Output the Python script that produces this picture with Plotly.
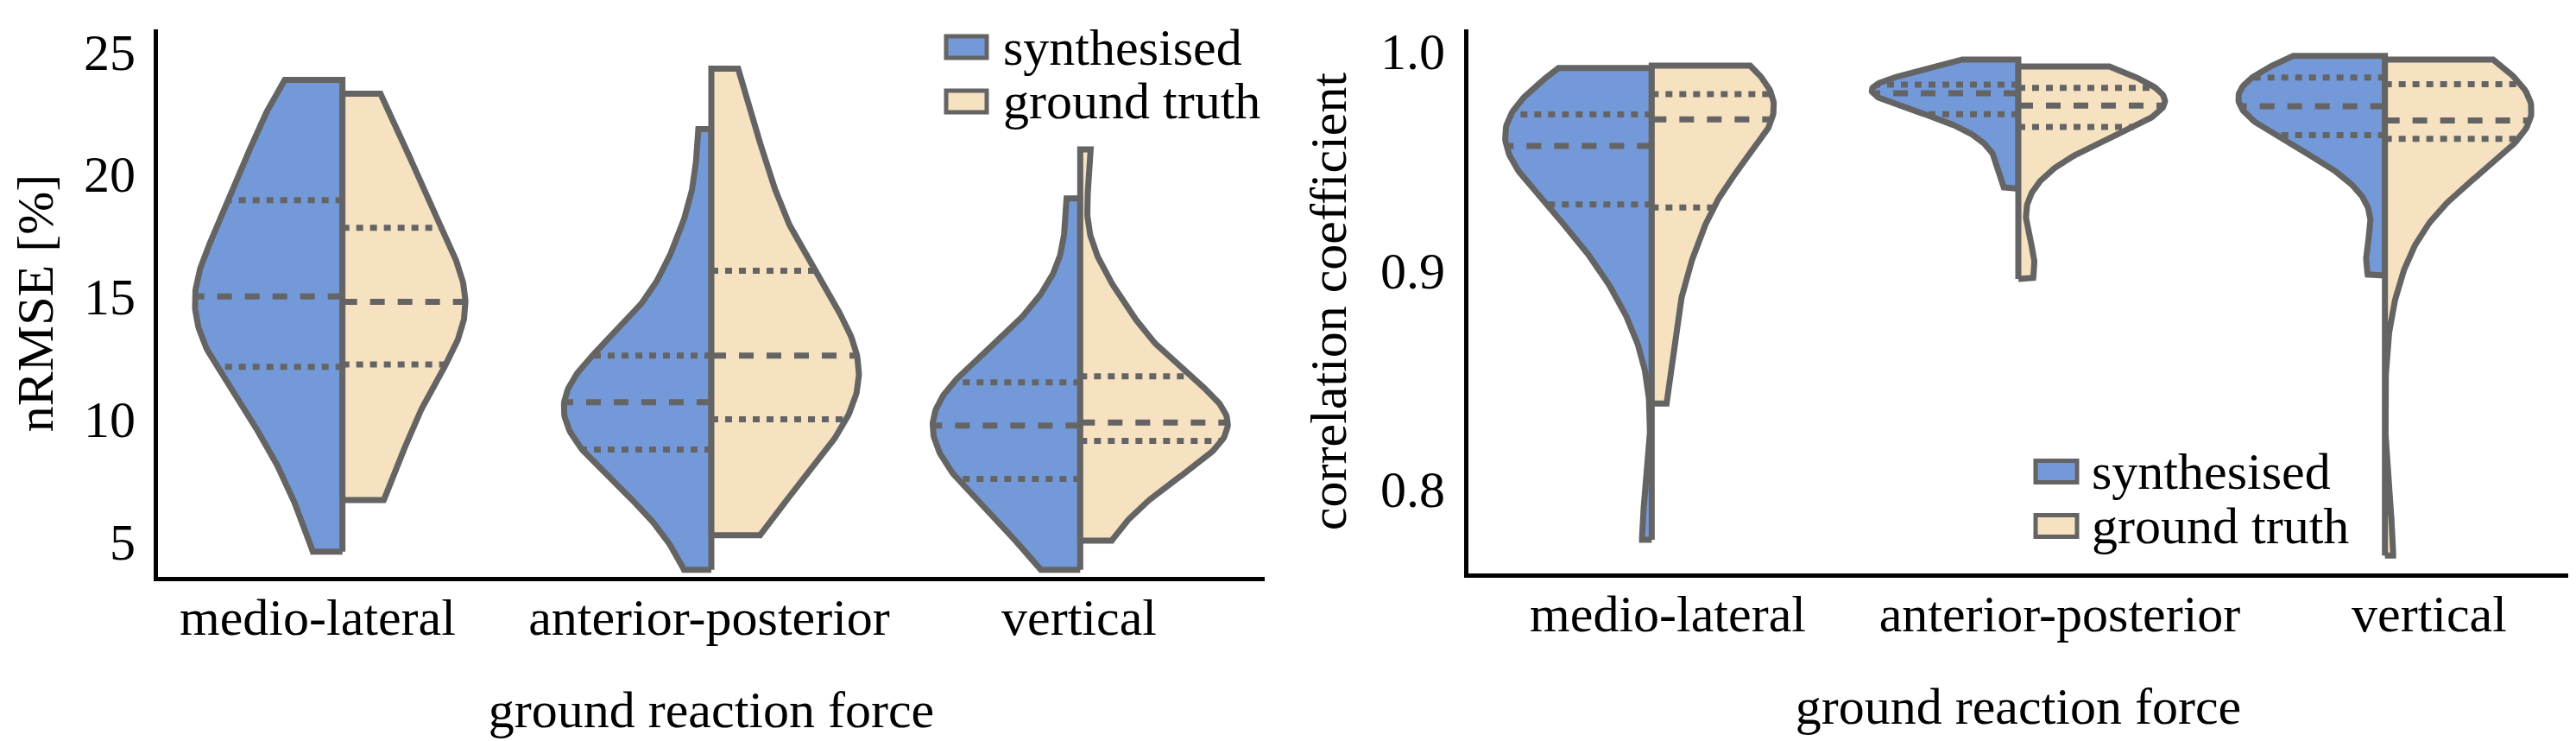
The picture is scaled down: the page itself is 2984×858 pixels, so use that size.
import numpy as np
import plotly.graph_objects as go

# ---------------- data ----------------
categories = ["medio-lateral", "anterior-posterior", "vertical"]
hue_names = ["synthesised", "ground truth"]

# nRMSE [%]
nrmse_synth_ml = [4.58, 7.0, 8.6, 9.8, 10.8, 11.9, 12.2, 12.9, 13.6, 14.1, 14.6, 14.9,
                  15.1, 15.7, 16.3, 16.9, 17.6, 18.8, 19.3, 20.3, 21.3, 22.3, 23.1, 23.84]
nrmse_truth_ml = [6.69, 7.6, 8.8, 10.2, 12.0, 12.3, 13.0, 13.7, 14.2, 14.6, 14.95, 15.4,
                  16.0, 16.7, 17.5, 18.7, 19.6, 20.5, 21.7, 23.27]
nrmse_synth_ap = [3.84, 5.8, 7.0, 7.7, 8.2, 8.6, 8.8, 9.3, 9.7, 10.0, 10.3, 10.5,
                  10.86, 11.2, 11.5, 11.9, 12.3, 12.5, 12.82, 13.8, 15.2, 16.4, 17.6, 21.83]
nrmse_truth_ap = [5.25, 6.6, 7.7, 8.5, 9.2, 9.8, 10.05, 10.6, 11.2, 11.7, 12.1, 12.45,
                  12.71, 13.2, 13.8, 14.4, 15.1, 15.8, 16.8, 17.9, 19.0, 20.4, 22.0, 24.3]
nrmse_synth_v = [3.84, 5.0, 5.9, 6.5, 7.0, 7.4, 7.6, 8.1, 8.6, 9.0, 9.35, 9.6,
                 9.86, 10.2, 10.5, 10.8, 11.1, 11.35, 11.9, 12.4, 13.0, 13.8, 15.2, 19.0]
nrmse_truth_v = [5.03, 6.3, 7.2, 7.8, 8.3, 8.9, 9.17, 9.35, 9.5, 9.65, 9.75, 9.8,
                 9.9, 10.1, 10.4, 10.7, 11.1, 11.5, 12.46, 13.0, 13.6, 14.3, 15.5, 21.0]

# correlation coefficient
corr_synth_ml = [0.7767, 0.885, 0.900, 0.912, 0.920, 0.928, 0.9305, 0.937, 0.943, 0.948, 0.952, 0.955,
                 0.9582, 0.961, 0.964, 0.966, 0.968, 0.970, 0.9743, 0.978, 0.982, 0.985, 0.989, 0.9922]
corr_truth_ml = [0.8389, 0.870, 0.895, 0.912, 0.926, 0.9293, 0.942, 0.953, 0.962, 0.967,
                 0.9706, 0.973, 0.975, 0.977, 0.979, 0.9841, 0.987, 0.989, 0.991, 0.9933]
corr_synth_ap = [0.9371, 0.948, 0.957, 0.963, 0.967, 0.970, 0.9715, 0.974, 0.976, 0.978, 0.979, 0.980,
                 0.9814, 0.982, 0.983, 0.9835, 0.984, 0.9845, 0.9849, 0.986, 0.988, 0.990, 0.993, 0.9961]
corr_truth_ap = [0.8959, 0.908, 0.945, 0.955, 0.960, 0.964, 0.9657, 0.968, 0.970, 0.972, 0.9735, 0.9745,
                 0.9757, 0.977, 0.978, 0.979, 0.981, 0.9829, 0.9838, 0.985, 0.987, 0.989, 0.991, 0.9929]
corr_synth_v = [0.8974, 0.910, 0.941, 0.950, 0.956, 0.960, 0.9621, 0.965, 0.968, 0.970, 0.972, 0.974,
                0.9756, 0.977, 0.979, 0.981, 0.984, 0.9875, 0.9891, 0.990, 0.992, 0.994, 0.996, 0.9978]
corr_truth_v = [0.7695, 0.905, 0.925, 0.938, 0.948, 0.957, 0.9609, 0.963, 0.965, 0.966, 0.967, 0.9678,
                0.9688, 0.970, 0.973, 0.976, 0.980, 0.9840, 0.9872, 0.989, 0.991, 0.993, 0.995, 0.9961]

nrmse_ticks = [5, 10, 15, 20, 25]
corr_ticks = [0.8, 0.9, 1.0]

nrmse_groups = [(nrmse_synth_ml, nrmse_truth_ml), (nrmse_synth_ap, nrmse_truth_ap), (nrmse_synth_v, nrmse_truth_v)]
corr_groups = [(corr_synth_ml, corr_truth_ml), (corr_synth_ap, corr_truth_ap), (corr_synth_v, corr_truth_v)]

# ---------------- style ----------------
W, H = 2984, 858
BLUE = "#7499D9"
TAN = "#F6E2C1"
GRAY = "#646464"
FONT = '"Liberation Serif", "Times New Roman", Times, serif'
FS = 60
HALF_WIDTH = 0.4
LW = 7
M_L, M_R, M_T, M_B = 175, 17, 26, 198
PW, PH = W - M_L - M_R, H - M_T - M_B


def px_x(p):
    return (p - M_L) / PW


def px_y(p):
    return (H - M_B - p) / PH


def kde(vals, grid):
    v = np.asarray(vals, float)
    n = v.size
    bw = v.std(ddof=1) * n ** (-0.2)
    z = (grid[:, None] - v[None, :]) / bw
    return np.exp(-0.5 * z ** 2).sum(axis=1) / (n * bw * np.sqrt(2 * np.pi))


fig = go.Figure()


def add_split_violins(groups, xa, ya):
    for ci, pair in enumerate(groups):
        nmax = max(len(p) for p in pair)
        for hi, vals in enumerate(pair):
            v = np.asarray(vals, float)
            sign = -1 if hi == 0 else 1
            grid = np.linspace(v.min(), v.max(), 200)
            dens = kde(v, grid)
            scale = HALF_WIDTH * (len(v) / nmax) / dens.max()
            xs = np.concatenate([[ci], ci + sign * dens * scale, [ci, ci]])
            ys = np.concatenate([[grid[0]], grid, [grid[-1], grid[0]]])
            fig.add_trace(go.Scatter(
                x=xs, y=ys, mode="lines", fill="toself",
                fillcolor=BLUE if hi == 0 else TAN,
                line=dict(color=GRAY, width=LW),
                name=hue_names[hi], showlegend=False, hoverinfo="skip",
                xaxis=xa, yaxis=ya))
        for hi, vals in enumerate(pair):
            v = np.asarray(vals, float)
            sign = -1 if hi == 0 else 1
            grid = np.linspace(v.min(), v.max(), 200)
            dens = kde(v, grid)
            scale = HALF_WIDTH * (len(v) / nmax) / dens.max()
            q1, q2, q3 = np.percentile(v, [25, 50, 75])
            w = np.interp([q1, q2, q3], grid, dens) * scale
            fig.add_trace(go.Scatter(
                x=[ci, ci + sign * w[0], None, ci, ci + sign * w[2]],
                y=[q1, q1, None, q3, q3], mode="lines",
                line=dict(color=GRAY, width=LW, dash="8px,8px"),
                showlegend=False, hoverinfo="skip", xaxis=xa, yaxis=ya))
            fig.add_trace(go.Scatter(
                x=[ci, ci + sign * w[1]], y=[q2, q2], mode="lines",
                line=dict(color=GRAY, width=LW, dash="17px,15px"),
                showlegend=False, hoverinfo="skip", xaxis=xa, yaxis=ya))


add_split_violins(nrmse_groups, "x", "y")
add_split_violins(corr_groups, "x2", "y2")

# tick-label horizontal shifts (px) as seen in the reference
shift_left_px = [-28.7, -2.5, -1.3]
shift_right_px = [18.7, 48.0, 51.3]
left_dom = [0.0, px_x(1457)]
right_dom = [px_x(1693), 1.0]
unit_left = (1457 - 175) / 3.0
unit_right = (2967 - 1693) / 3.0

axis_common = dict(showgrid=False, zeroline=False, showline=True, linecolor="black",
                   linewidth=5, ticks="", mirror=False, automargin=False,
                   tickfont=dict(family=FONT, size=FS, color="black"))

fig.update_layout(
    width=W, height=H,
    margin=dict(l=M_L, r=M_R, t=M_T, b=M_B, pad=0),
    paper_bgcolor="white", plot_bgcolor="white",
    font=dict(family=FONT, size=FS, color="black"),
    showlegend=False,
    xaxis=dict(domain=left_dom, range=[-0.5, 2.5],
               tickvals=[i + s / unit_left for i, s in enumerate(shift_left_px)],
               ticktext=categories, ticklabelstandoff=-10,
               title=dict(text="ground reaction force", standoff=54,
                          font=dict(family=FONT, size=FS)),
               anchor="y", **axis_common),
    yaxis=dict(domain=[0, 1], range=[3.55, 25.9], tickvals=nrmse_ticks,
               ticklabelstandoff=9,
               title=dict(text="nRMSE [%]", standoff=22, font=dict(family=FONT, size=FS)),
               anchor="x", **axis_common),
    xaxis2=dict(domain=right_dom, range=[-0.5, 2.5],
                tickvals=[i + s / unit_right for i, s in enumerate(shift_right_px)],
                ticktext=categories, ticklabelstandoff=-10,
                title=dict(text="ground reaction force", standoff=54,
                           font=dict(family=FONT, size=FS)),
                anchor="y2", **axis_common),
    yaxis2=dict(domain=[px_y(656), 1], range=[0.7613, 1.0099], tickvals=corr_ticks,
                tickformat=".1f", ticklabelstandoff=10,
                title=dict(text="correlation coefficient", standoff=22,
                           font=dict(family=FONT, size=FS)),
                anchor="x2", **axis_common),
)

# legends (patch + label), positioned as in the reference
legend_boxes = [
    # (patch x0, x1, row centres, text x)
    (1088, 1135, [46.5, 109.5], 1152),
    (2350, 2398, [538.0, 601.0], 2413),
]
for x0, x1, rows, tx in legend_boxes:
    for ri, yc in enumerate(rows):
        fig.add_shape(type="rect", xref="paper", yref="paper",
                      x0=px_x(x0), x1=px_x(x1), y0=px_y(yc - 12.5), y1=px_y(yc + 12.5),
                      fillcolor=BLUE if ri == 0 else TAN,
                      line=dict(color=GRAY, width=5))
        fig.add_annotation(xref="paper", yref="paper", x=px_x(tx), y=px_y(yc),
                           xanchor="left", yanchor="middle", showarrow=False,
                           text=hue_names[ri], font=dict(family=FONT, size=FS, color="black"))

fig.write_html("out.html")
